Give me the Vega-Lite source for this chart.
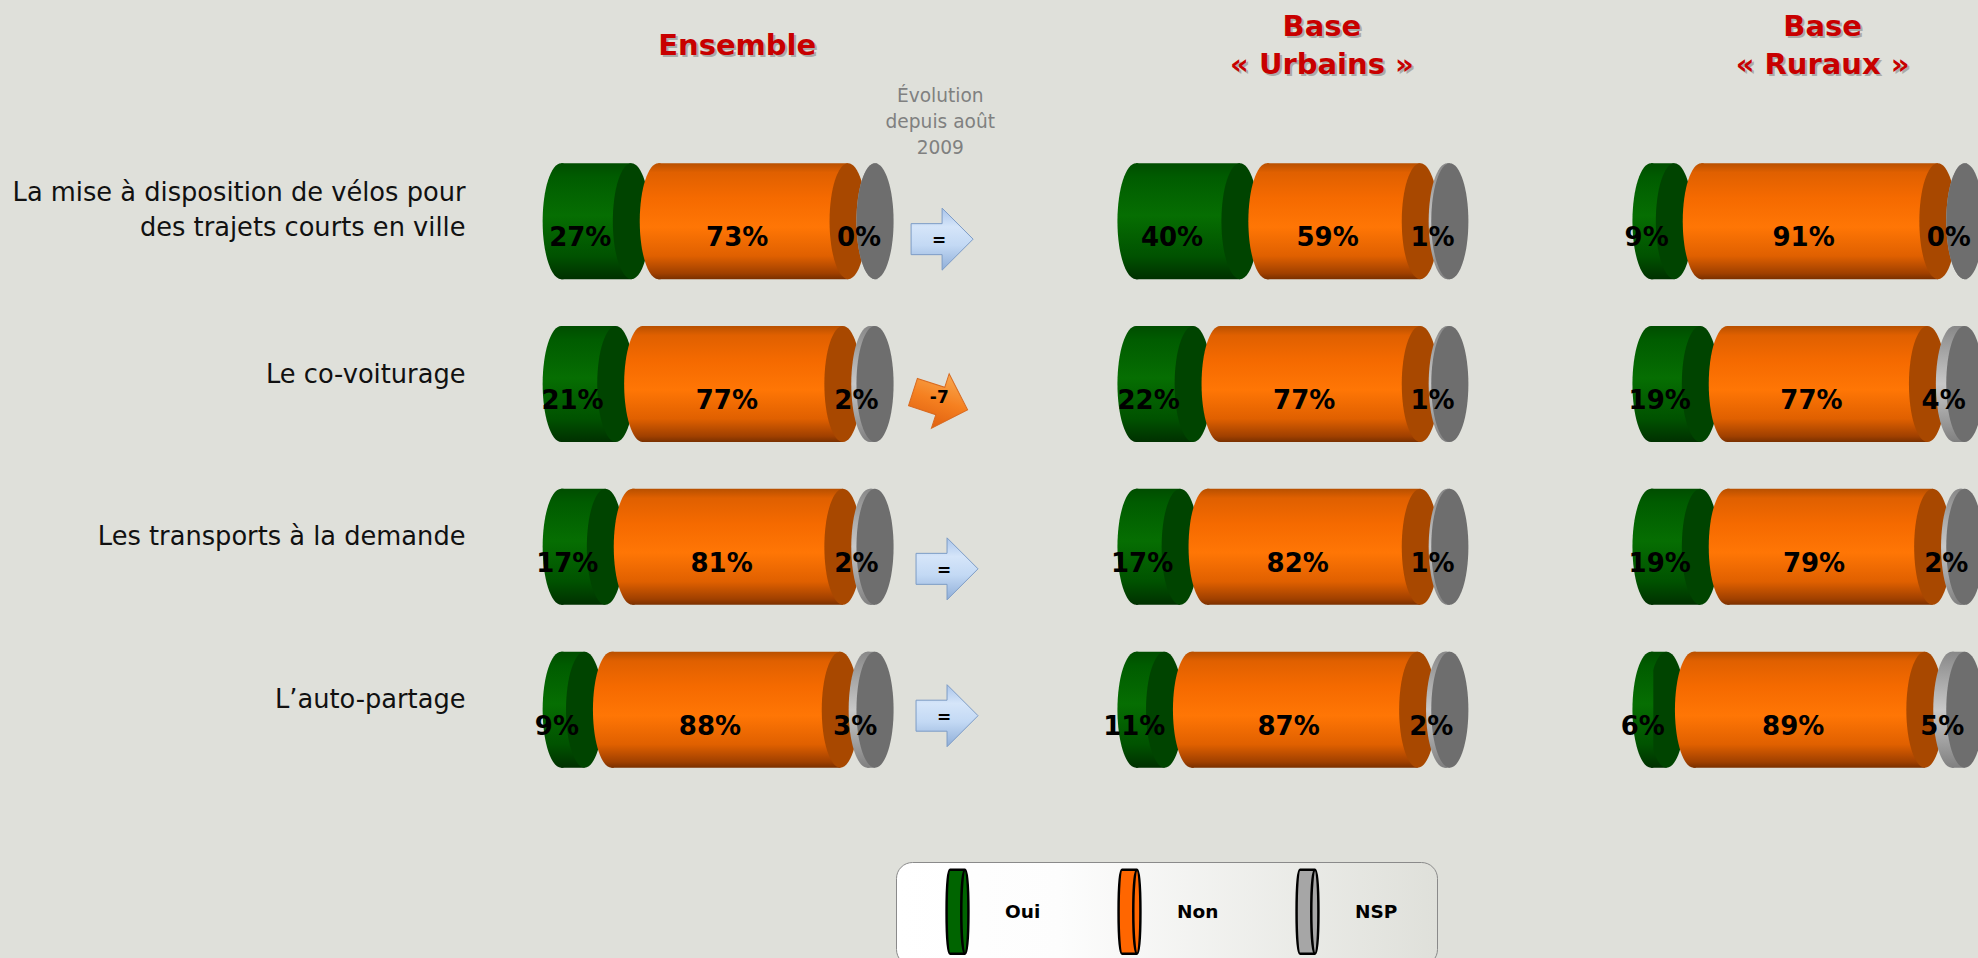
{"$schema":"https://vega.github.io/schema/vega-lite/v6.json","background":"#dfe0da","padding":0,"spacing":0,"config":{"view":{"stroke":null},"concat":{"spacing":0}},
"datasets":{"segments":[
{"base":"Ensemble","item":"La mise à disposition de vélos pour des trajets courts en ville","cat":"Oui","value":27},
{"base":"Ensemble","item":"La mise à disposition de vélos pour des trajets courts en ville","cat":"Non","value":73},
{"base":"Ensemble","item":"La mise à disposition de vélos pour des trajets courts en ville","cat":"NSP","value":0},
{"base":"Ensemble","item":"Le co-voiturage","cat":"Oui","value":21},
{"base":"Ensemble","item":"Le co-voiturage","cat":"Non","value":77},
{"base":"Ensemble","item":"Le co-voiturage","cat":"NSP","value":2},
{"base":"Ensemble","item":"Les transports à la demande","cat":"Oui","value":17},
{"base":"Ensemble","item":"Les transports à la demande","cat":"Non","value":81},
{"base":"Ensemble","item":"Les transports à la demande","cat":"NSP","value":2},
{"base":"Ensemble","item":"L’auto-partage","cat":"Oui","value":9},
{"base":"Ensemble","item":"L’auto-partage","cat":"Non","value":88},
{"base":"Ensemble","item":"L’auto-partage","cat":"NSP","value":3},
{"base":"Urbains","item":"La mise à disposition de vélos pour des trajets courts en ville","cat":"Oui","value":40},
{"base":"Urbains","item":"La mise à disposition de vélos pour des trajets courts en ville","cat":"Non","value":59},
{"base":"Urbains","item":"La mise à disposition de vélos pour des trajets courts en ville","cat":"NSP","value":1},
{"base":"Urbains","item":"Le co-voiturage","cat":"Oui","value":22},
{"base":"Urbains","item":"Le co-voiturage","cat":"Non","value":77},
{"base":"Urbains","item":"Le co-voiturage","cat":"NSP","value":1},
{"base":"Urbains","item":"Les transports à la demande","cat":"Oui","value":17},
{"base":"Urbains","item":"Les transports à la demande","cat":"Non","value":82},
{"base":"Urbains","item":"Les transports à la demande","cat":"NSP","value":1},
{"base":"Urbains","item":"L’auto-partage","cat":"Oui","value":11},
{"base":"Urbains","item":"L’auto-partage","cat":"Non","value":87},
{"base":"Urbains","item":"L’auto-partage","cat":"NSP","value":2},
{"base":"Ruraux","item":"La mise à disposition de vélos pour des trajets courts en ville","cat":"Oui","value":9},
{"base":"Ruraux","item":"La mise à disposition de vélos pour des trajets courts en ville","cat":"Non","value":91},
{"base":"Ruraux","item":"La mise à disposition de vélos pour des trajets courts en ville","cat":"NSP","value":0},
{"base":"Ruraux","item":"Le co-voiturage","cat":"Oui","value":19},
{"base":"Ruraux","item":"Le co-voiturage","cat":"Non","value":77},
{"base":"Ruraux","item":"Le co-voiturage","cat":"NSP","value":4},
{"base":"Ruraux","item":"Les transports à la demande","cat":"Oui","value":19},
{"base":"Ruraux","item":"Les transports à la demande","cat":"Non","value":79},
{"base":"Ruraux","item":"Les transports à la demande","cat":"NSP","value":2},
{"base":"Ruraux","item":"L’auto-partage","cat":"Oui","value":6},
{"base":"Ruraux","item":"L’auto-partage","cat":"Non","value":89},
{"base":"Ruraux","item":"L’auto-partage","cat":"NSP","value":5}],
"evolutions":[
{"item":"La mise à disposition de vélos pour des trajets courts en ville","evol":"="},
{"item":"Le co-voiturage","evol":"-7"},
{"item":"Les transports à la demande","evol":"="},
{"item":"L’auto-partage","evol":"="}],
"entetes":[{"item":"Titre","texte":"Ensemble"},{"item":"Titre","texte":"Urbains"},{"item":"Titre","texte":"Ruraux"}]},
"hconcat":[
{"width":553.7,"height":768,"data":{"name":"segments"},
"transform":[{"filter":"datum.base==='Ensemble'"},{"calculate":"indexof(['Oui','Non','NSP'],datum.cat)","as":"rang"},{"stack":"value","groupby":["item"],"sort":[{"field":"rang"}],"as":["v0","v1"]},{"calculate":"datum.v0+datum.rang*10.35","as":"a"},{"calculate":"datum.v1+datum.rang*10.35","as":"b"},{"calculate":"(datum.a+datum.b)/2","as":"m"},{"calculate":"datum.value+'%'","as":"lab"}],
"encoding":{"y":{"field":"item","type":"nominal","title":null,"scale":{"type":"point","padding":0.358,"domain":["Titre","La mise à disposition de vélos pour des trajets courts en ville","Le co-voiturage","Les transports à la demande","L’auto-partage"]},"axis":{"domain":false,"ticks":false,"grid":false,"minExtent":543,"maxExtent":543,"labelPadding":78,"labelOffset":{"expr":"indexof(datum.value,' des trajets')>0?-29:-10"},"labelFont":"DejaVu Sans","labelFontSize":25.7,"labelColor":"#111111","labelLineHeight":35,"labelLimit":600,"labelAlign":"right","labelBaseline":"middle","labelExpr":"datum.value==='Titre'?'':(indexof(datum.value,' des trajets')>0?['La mise à disposition de vélos pour','des trajets courts en ville']:datum.value)"}}},
"layer":[
{"mark":{"type":"bar","size":116},"encoding":{"x":{"field":"a","type":"quantitative","title":null,"axis":null,"scale":{"domain":[-7,205.96],"nice":false,"zero":false}},"x2":{"field":"b"},"fill":{"condition":[{"test":"datum.cat==='Oui'","value":{"gradient":"linear","x1":0,"y1":0,"x2":0,"y2":1,"stops":[{"offset":0,"color":"#004d00"},{"offset":0.12,"color":"#005c00"},{"offset":0.45,"color":"#066e02"},{"offset":0.8,"color":"#005200"},{"offset":1,"color":"#003000"}]}},{"test":"datum.cat==='Non'","value":{"gradient":"linear","x1":0,"y1":0,"x2":0,"y2":1,"stops":[{"offset":0,"color":"#b85000"},{"offset":0.08,"color":"#e06000"},{"offset":0.3,"color":"#f56a00"},{"offset":0.55,"color":"#ff7605"},{"offset":0.8,"color":"#e06000"},{"offset":0.95,"color":"#a04000"},{"offset":1,"color":"#7a3000"}]}}],"value":{"gradient":"linear","x1":0,"y1":0,"x2":0,"y2":1,"stops":[{"offset":0,"color":"#888888"},{"offset":0.5,"color":"#c8c8c8"},{"offset":1,"color":"#808080"}]}}}},
{"transform":[{"filter":"datum.cat!=='NSP'"}],"mark":{"type":"point","filled":true,"opacity":1,"size":13456,"shape":"M0,-1 C.1767,-1 .32,-.5523 .32,0 C.32,.5523 .1767,1 0,1 C-.1767,1 -.32,.5523 -.32,0 C-.32,-.5523 -.1767,-1 0,-1 Z"},"encoding":{"x":{"field":"b","type":"quantitative"},"fill":{"condition":[{"test":"datum.cat==='Oui'","value":"#004400"}],"value":"#a84800"}}},
{"mark":{"type":"point","filled":true,"opacity":1,"size":13456,"shape":"M.04,-1 L0,-1 C-.1767,-1 -.32,-.5523 -.32,0 C-.32,.5523 -.1767,1 0,1 L.04,1 Z"},"encoding":{"x":{"field":"a","type":"quantitative"},"fill":{"condition":[{"test":"datum.cat==='Oui'","value":{"gradient":"linear","x1":0,"y1":0,"x2":0,"y2":1,"stops":[{"offset":0,"color":"#004d00"},{"offset":0.12,"color":"#005c00"},{"offset":0.45,"color":"#066e02"},{"offset":0.8,"color":"#005200"},{"offset":1,"color":"#003000"}]}},{"test":"datum.cat==='Non'","value":{"gradient":"linear","x1":0,"y1":0,"x2":0,"y2":1,"stops":[{"offset":0,"color":"#b85000"},{"offset":0.08,"color":"#e06000"},{"offset":0.3,"color":"#f56a00"},{"offset":0.55,"color":"#ff7605"},{"offset":0.8,"color":"#e06000"},{"offset":0.95,"color":"#a04000"},{"offset":1,"color":"#7a3000"}]}}],"value":{"gradient":"linear","x1":0,"y1":0,"x2":0,"y2":1,"stops":[{"offset":0,"color":"#888888"},{"offset":0.5,"color":"#c8c8c8"},{"offset":1,"color":"#808080"}]}}}},
{"transform":[{"filter":"datum.cat==='NSP'"}],"mark":{"type":"point","filled":true,"opacity":1,"size":13456,"fill":"#6e6e6e","shape":"M0,-1 C.1767,-1 .32,-.5523 .32,0 C.32,.5523 .1767,1 0,1 C-.1767,1 -.32,.5523 -.32,0 C-.32,-.5523 -.1767,-1 0,-1 Z"},"encoding":{"x":{"field":"b","type":"quantitative"}}},
{"mark":{"type":"point","filled":true,"opacity":0,"size":10},"encoding":{"x":{"field":"a","type":"quantitative"},"fill":{"field":"cat","type":"nominal","scale":{"domain":["Oui","Non","NSP"],"range":["#006400","#ff6600","#a6a6a6"]},"legend":{"orient":"none","legendX":353,"legendY":862,"direction":"horizontal","columns":3,"title":" ","titleOrient":"right","titlePadding":34,"padding":6,"cornerRadius":16,"strokeColor":"#8a8a8a","symbolType":"M-.18,-1 L.18,-1 C.24,-1 .26,-.5 .26,0 C.26,.5 .24,1 .18,1 L-.18,1 C-.24,1 -.26,.5 -.26,0 C-.26,-.5 -.24,-1 -.18,-1 Z M.18,-1 C.12,-1 .09,-.5 .09,0 C.09,.5 .12,1 .18,1 C.12,1 .09,.5 .09,0 C.09,-.5 .12,-1 .18,-1","symbolSize":7056,"symbolOffset":12,"symbolStrokeColor":"#000000","symbolStrokeWidth":2.5,"symbolOpacity":1,"labelFont":"DejaVu Sans","labelFontWeight":"bold","labelFontSize":18.5,"labelColor":"#000000","labelOffset":4,"columnPadding":33,"encoding":{"legend":{"fill":{"value":{"gradient":"linear","x1":0,"y1":0,"x2":1,"y2":0,"stops":[{"offset":0,"color":"#ffffff"},{"offset":0.3,"color":"#fdfdfd"},{"offset":1,"color":"#dfe0da"}]}}}}}}}},
{"mark":{"type":"text","font":"DejaVu Sans","fontWeight":"bold","fontSize":26,"color":"#000000","dx":-16,"dy":17},"encoding":{"x":{"field":"m","type":"quantitative"},"text":{"field":"lab"}}},
{"data":{"name":"evolutions"},"transform":[{"filter":"datum.evol==='=' && datum.item==='La mise à disposition de vélos pour des trajets courts en ville'"}],"mark":{"type":"point","filled":true,"opacity":1,"size":3844,"yOffset":18,"stroke":"#7d9cc6","strokeWidth":1,"fill":{"gradient":"linear","x1":0,"y1":0,"x2":0,"y2":1,"stops":[{"offset":0,"color":"#a9c4ea"},{"offset":0.3,"color":"#d5e5f9"},{"offset":0.6,"color":"#c3d9f4"},{"offset":1,"color":"#8faed8"}]},"shape":"M-1,-.5 L0,-.5 L0,-1 L1,0 L0,1 L0,.5 L-1,.5 Z"},"encoding":{"x":{"datum":146.5,"type":"quantitative"}}},
{"data":{"name":"evolutions"},"transform":[{"filter":"datum.evol==='=' && datum.item==='Les transports à la demande'"}],"mark":{"type":"point","filled":true,"opacity":1,"size":3844,"yOffset":22,"stroke":"#7d9cc6","strokeWidth":1,"fill":{"gradient":"linear","x1":0,"y1":0,"x2":0,"y2":1,"stops":[{"offset":0,"color":"#a9c4ea"},{"offset":0.3,"color":"#d5e5f9"},{"offset":0.6,"color":"#c3d9f4"},{"offset":1,"color":"#8faed8"}]},"shape":"M-1,-.5 L0,-.5 L0,-1 L1,0 L0,1 L0,.5 L-1,.5 Z"},"encoding":{"x":{"datum":148.4,"type":"quantitative"}}},
{"data":{"name":"evolutions"},"transform":[{"filter":"datum.evol==='=' && datum.item==='L’auto-partage'"}],"mark":{"type":"point","filled":true,"opacity":1,"size":3844,"yOffset":6,"stroke":"#7d9cc6","strokeWidth":1,"fill":{"gradient":"linear","x1":0,"y1":0,"x2":0,"y2":1,"stops":[{"offset":0,"color":"#a9c4ea"},{"offset":0.3,"color":"#d5e5f9"},{"offset":0.6,"color":"#c3d9f4"},{"offset":1,"color":"#8faed8"}]},"shape":"M-1,-.5 L0,-.5 L0,-1 L1,0 L0,1 L0,.5 L-1,.5 Z"},"encoding":{"x":{"datum":148.4,"type":"quantitative"}}},
{"data":{"name":"evolutions"},"transform":[{"filter":"datum.evol==='-7'"}],"mark":{"type":"point","filled":true,"opacity":1,"size":3300,"yOffset":17,"angle":18,"stroke":"#d86a20","strokeWidth":1,"fill":{"gradient":"linear","x1":0,"y1":0,"x2":0,"y2":1,"stops":[{"offset":0,"color":"#f8a850"},{"offset":0.5,"color":"#f58020"},{"offset":1,"color":"#e06010"}]},"shape":"M-1,-.5 L0,-.5 L0,-1 L1,0 L0,1 L0,.5 L-1,.5 Z"},"encoding":{"x":{"datum":145.8,"type":"quantitative"}}},
{"data":{"name":"evolutions"},"transform":[{"filter":"datum.item==='La mise à disposition de vélos pour des trajets courts en ville'"}],"mark":{"type":"text","font":"DejaVu Sans","fontWeight":"bold","fontSize":17,"color":"#000000","dx":-3,"dy":20},"encoding":{"x":{"datum":146.5,"type":"quantitative"},"text":{"field":"evol"}}},
{"data":{"name":"evolutions"},"transform":[{"filter":"datum.item==='Le co-voiturage'"}],"mark":{"type":"text","font":"DejaVu Sans","fontWeight":"bold","fontSize":17,"color":"#000000","dx":-1,"dy":14},"encoding":{"x":{"datum":145.8,"type":"quantitative"},"text":{"field":"evol"}}},
{"data":{"name":"evolutions"},"transform":[{"filter":"datum.item==='Les transports à la demande'"}],"mark":{"type":"text","font":"DejaVu Sans","fontWeight":"bold","fontSize":17,"color":"#000000","dx":-3,"dy":24},"encoding":{"x":{"datum":148.4,"type":"quantitative"},"text":{"field":"evol"}}},
{"data":{"name":"evolutions"},"transform":[{"filter":"datum.item==='L’auto-partage'"}],"mark":{"type":"text","font":"DejaVu Sans","fontWeight":"bold","fontSize":17,"color":"#000000","dx":-3,"dy":8},"encoding":{"x":{"datum":148.4,"type":"quantitative"},"text":{"field":"evol"}}},
{"data":{"name":"entetes"},"transform":[{"filter":"datum.texte==='Ensemble'"}],"mark":{"type":"text","font":"DejaVu Sans","fontWeight":"bold","fontSize":29,"color":"#888888","opacity":0.6,"dx":2,"dy":-10.5},"encoding":{"x":{"datum":67.7,"type":"quantitative"},"text":{"field":"texte"}}},
{"data":{"name":"entetes"},"transform":[{"filter":"datum.texte==='Ensemble'"}],"mark":{"type":"text","font":"DejaVu Sans","fontWeight":"bold","fontSize":29,"color":"#c80000","dy":-12.5},"encoding":{"x":{"datum":67.7,"type":"quantitative"},"text":{"field":"texte"}}},
{"data":{"name":"entetes"},"transform":[{"filter":"datum.texte==='Ensemble'"}],"mark":{"type":"text","font":"DejaVu Sans","fontSize":18.6,"color":"#808080","lineHeight":26,"dy":38,"text":["Évolution","depuis août","2009"]},"encoding":{"x":{"datum":145.8,"type":"quantitative"}}}
]},
{"width":514.5,"height":768,"data":{"name":"segments"},
"transform":[{"filter":"datum.base==='Urbains'"},{"calculate":"indexof(['Oui','Non','NSP'],datum.cat)","as":"rang"},{"stack":"value","groupby":["item"],"sort":[{"field":"rang"}],"as":["v0","v1"]},{"calculate":"datum.v0+datum.rang*10.35","as":"a"},{"calculate":"datum.v1+datum.rang*10.35","as":"b"},{"calculate":"(datum.a+datum.b)/2","as":"m"},{"calculate":"datum.value+'%'","as":"lab"}],
"encoding":{"y":{"field":"item","type":"nominal","title":null,"scale":{"type":"point","padding":0.358,"domain":["Titre","La mise à disposition de vélos pour des trajets courts en ville","Le co-voiturage","Les transports à la demande","L’auto-partage"]},"axis":null}},
"layer":[
{"mark":{"type":"bar","size":116},"encoding":{"x":{"field":"a","type":"quantitative","title":null,"axis":null,"scale":{"domain":[-15,182.88],"nice":false,"zero":false}},"x2":{"field":"b"},"fill":{"condition":[{"test":"datum.cat==='Oui'","value":{"gradient":"linear","x1":0,"y1":0,"x2":0,"y2":1,"stops":[{"offset":0,"color":"#004d00"},{"offset":0.12,"color":"#005c00"},{"offset":0.45,"color":"#066e02"},{"offset":0.8,"color":"#005200"},{"offset":1,"color":"#003000"}]}},{"test":"datum.cat==='Non'","value":{"gradient":"linear","x1":0,"y1":0,"x2":0,"y2":1,"stops":[{"offset":0,"color":"#b85000"},{"offset":0.08,"color":"#e06000"},{"offset":0.3,"color":"#f56a00"},{"offset":0.55,"color":"#ff7605"},{"offset":0.8,"color":"#e06000"},{"offset":0.95,"color":"#a04000"},{"offset":1,"color":"#7a3000"}]}}],"value":{"gradient":"linear","x1":0,"y1":0,"x2":0,"y2":1,"stops":[{"offset":0,"color":"#888888"},{"offset":0.5,"color":"#c8c8c8"},{"offset":1,"color":"#808080"}]}}}},
{"transform":[{"filter":"datum.cat!=='NSP'"}],"mark":{"type":"point","filled":true,"opacity":1,"size":13456,"shape":"M0,-1 C.1767,-1 .32,-.5523 .32,0 C.32,.5523 .1767,1 0,1 C-.1767,1 -.32,.5523 -.32,0 C-.32,-.5523 -.1767,-1 0,-1 Z"},"encoding":{"x":{"field":"b","type":"quantitative"},"fill":{"condition":[{"test":"datum.cat==='Oui'","value":"#004400"}],"value":"#a84800"}}},
{"mark":{"type":"point","filled":true,"opacity":1,"size":13456,"shape":"M.04,-1 L0,-1 C-.1767,-1 -.32,-.5523 -.32,0 C-.32,.5523 -.1767,1 0,1 L.04,1 Z"},"encoding":{"x":{"field":"a","type":"quantitative"},"fill":{"condition":[{"test":"datum.cat==='Oui'","value":{"gradient":"linear","x1":0,"y1":0,"x2":0,"y2":1,"stops":[{"offset":0,"color":"#004d00"},{"offset":0.12,"color":"#005c00"},{"offset":0.45,"color":"#066e02"},{"offset":0.8,"color":"#005200"},{"offset":1,"color":"#003000"}]}},{"test":"datum.cat==='Non'","value":{"gradient":"linear","x1":0,"y1":0,"x2":0,"y2":1,"stops":[{"offset":0,"color":"#b85000"},{"offset":0.08,"color":"#e06000"},{"offset":0.3,"color":"#f56a00"},{"offset":0.55,"color":"#ff7605"},{"offset":0.8,"color":"#e06000"},{"offset":0.95,"color":"#a04000"},{"offset":1,"color":"#7a3000"}]}}],"value":{"gradient":"linear","x1":0,"y1":0,"x2":0,"y2":1,"stops":[{"offset":0,"color":"#888888"},{"offset":0.5,"color":"#c8c8c8"},{"offset":1,"color":"#808080"}]}}}},
{"transform":[{"filter":"datum.cat==='NSP'"}],"mark":{"type":"point","filled":true,"opacity":1,"size":13456,"fill":"#6e6e6e","shape":"M0,-1 C.1767,-1 .32,-.5523 .32,0 C.32,.5523 .1767,1 0,1 C-.1767,1 -.32,.5523 -.32,0 C-.32,-.5523 -.1767,-1 0,-1 Z"},"encoding":{"x":{"field":"b","type":"quantitative"}}},
{"mark":{"type":"text","font":"DejaVu Sans","fontWeight":"bold","fontSize":26,"color":"#000000","dx":-16,"dy":17},"encoding":{"x":{"field":"m","type":"quantitative"},"text":{"field":"lab"}}},
{"mark":{"type":"text","font":"DejaVu Sans","fontWeight":"bold","fontSize":29,"color":"#888888","opacity":0.6,"dx":2,"dy":-29.5,"lineHeight":38,"text":["Base","« Urbains »"]},"data":{"name":"entetes"},"transform":[{"filter":"datum.texte==='Urbains'"}],"encoding":{"x":{"datum":71.5,"type":"quantitative"}}},
{"mark":{"type":"text","font":"DejaVu Sans","fontWeight":"bold","fontSize":29,"color":"#c80000","dy":-31.5,"lineHeight":38,"text":["Base","« Urbains »"]},"data":{"name":"entetes"},"transform":[{"filter":"datum.texte==='Urbains'"}],"encoding":{"x":{"datum":71.5,"type":"quantitative"}}}
]},
{"width":366.8,"height":768,"data":{"name":"segments"},
"transform":[{"filter":"datum.base==='Ruraux'"},{"calculate":"indexof(['Oui','Non','NSP'],datum.cat)","as":"rang"},{"stack":"value","groupby":["item"],"sort":[{"field":"rang"}],"as":["v0","v1"]},{"calculate":"datum.v0+datum.rang*10.35","as":"a"},{"calculate":"datum.v1+datum.rang*10.35","as":"b"},{"calculate":"(datum.a+datum.b)/2","as":"m"},{"calculate":"datum.value+'%'","as":"lab"}],
"encoding":{"y":{"field":"item","type":"nominal","title":null,"scale":{"type":"point","padding":0.358,"domain":["Titre","La mise à disposition de vélos pour des trajets courts en ville","Le co-voiturage","Les transports à la demande","L’auto-partage"]},"axis":null}},
"layer":[
{"mark":{"type":"bar","size":116},"encoding":{"x":{"field":"a","type":"quantitative","title":null,"axis":null,"scale":{"domain":[-15,126.08],"nice":false,"zero":false}},"x2":{"field":"b"},"fill":{"condition":[{"test":"datum.cat==='Oui'","value":{"gradient":"linear","x1":0,"y1":0,"x2":0,"y2":1,"stops":[{"offset":0,"color":"#004d00"},{"offset":0.12,"color":"#005c00"},{"offset":0.45,"color":"#066e02"},{"offset":0.8,"color":"#005200"},{"offset":1,"color":"#003000"}]}},{"test":"datum.cat==='Non'","value":{"gradient":"linear","x1":0,"y1":0,"x2":0,"y2":1,"stops":[{"offset":0,"color":"#b85000"},{"offset":0.08,"color":"#e06000"},{"offset":0.3,"color":"#f56a00"},{"offset":0.55,"color":"#ff7605"},{"offset":0.8,"color":"#e06000"},{"offset":0.95,"color":"#a04000"},{"offset":1,"color":"#7a3000"}]}}],"value":{"gradient":"linear","x1":0,"y1":0,"x2":0,"y2":1,"stops":[{"offset":0,"color":"#888888"},{"offset":0.5,"color":"#c8c8c8"},{"offset":1,"color":"#808080"}]}}}},
{"transform":[{"filter":"datum.cat!=='NSP'"}],"mark":{"type":"point","filled":true,"opacity":1,"size":13456,"shape":"M0,-1 C.1767,-1 .32,-.5523 .32,0 C.32,.5523 .1767,1 0,1 C-.1767,1 -.32,.5523 -.32,0 C-.32,-.5523 -.1767,-1 0,-1 Z"},"encoding":{"x":{"field":"b","type":"quantitative"},"fill":{"condition":[{"test":"datum.cat==='Oui'","value":"#004400"}],"value":"#a84800"}}},
{"mark":{"type":"point","filled":true,"opacity":1,"size":13456,"shape":"M.04,-1 L0,-1 C-.1767,-1 -.32,-.5523 -.32,0 C-.32,.5523 -.1767,1 0,1 L.04,1 Z"},"encoding":{"x":{"field":"a","type":"quantitative"},"fill":{"condition":[{"test":"datum.cat==='Oui'","value":{"gradient":"linear","x1":0,"y1":0,"x2":0,"y2":1,"stops":[{"offset":0,"color":"#004d00"},{"offset":0.12,"color":"#005c00"},{"offset":0.45,"color":"#066e02"},{"offset":0.8,"color":"#005200"},{"offset":1,"color":"#003000"}]}},{"test":"datum.cat==='Non'","value":{"gradient":"linear","x1":0,"y1":0,"x2":0,"y2":1,"stops":[{"offset":0,"color":"#b85000"},{"offset":0.08,"color":"#e06000"},{"offset":0.3,"color":"#f56a00"},{"offset":0.55,"color":"#ff7605"},{"offset":0.8,"color":"#e06000"},{"offset":0.95,"color":"#a04000"},{"offset":1,"color":"#7a3000"}]}}],"value":{"gradient":"linear","x1":0,"y1":0,"x2":0,"y2":1,"stops":[{"offset":0,"color":"#888888"},{"offset":0.5,"color":"#c8c8c8"},{"offset":1,"color":"#808080"}]}}}},
{"transform":[{"filter":"datum.cat==='NSP'"}],"mark":{"type":"point","filled":true,"opacity":1,"clip":true,"size":13456,"fill":"#6e6e6e","shape":"M0,-1 C.1767,-1 .32,-.5523 .32,0 C.32,.5523 .1767,1 0,1 C-.1767,1 -.32,.5523 -.32,0 C-.32,-.5523 -.1767,-1 0,-1 Z"},"encoding":{"x":{"field":"b","type":"quantitative"}}},
{"mark":{"type":"text","font":"DejaVu Sans","fontWeight":"bold","fontSize":26,"color":"#000000","dx":-16,"dy":17},"encoding":{"x":{"field":"m","type":"quantitative"},"text":{"field":"lab"}}},
{"mark":{"type":"text","font":"DejaVu Sans","fontWeight":"bold","fontSize":29,"color":"#888888","opacity":0.6,"dx":2,"dy":-29.5,"lineHeight":38,"text":["Base","« Ruraux »"]},"data":{"name":"entetes"},"transform":[{"filter":"datum.texte==='Ruraux'"}],"encoding":{"x":{"datum":66,"type":"quantitative"}}},
{"mark":{"type":"text","font":"DejaVu Sans","fontWeight":"bold","fontSize":29,"color":"#c80000","dy":-31.5,"lineHeight":38,"text":["Base","« Ruraux »"]},"data":{"name":"entetes"},"transform":[{"filter":"datum.texte==='Ruraux'"}],"encoding":{"x":{"datum":66,"type":"quantitative"}}}
]}
]}
